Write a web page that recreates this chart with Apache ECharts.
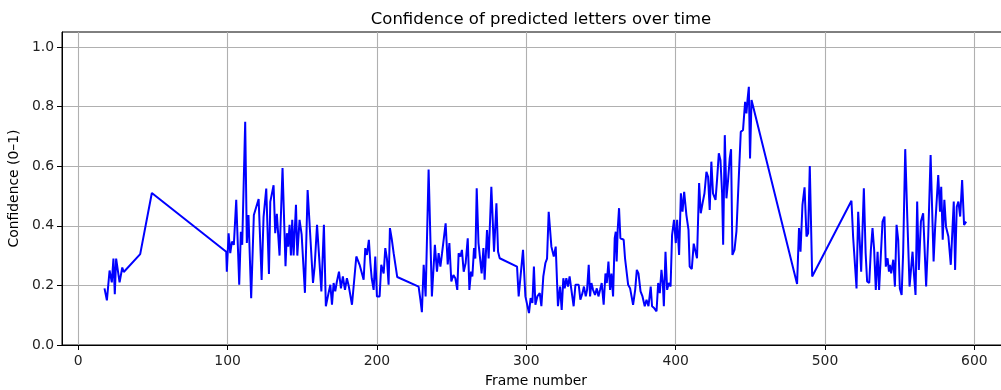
<!DOCTYPE html>
<html>
<head>
<meta charset="utf-8">
<script src="https://cdn.jsdelivr.net/npm/echarts@6/dist/echarts.min.js"></script>
<style>
html,body{margin:0;padding:0;background:#fff;}
#chart{width:1001px;height:390px;}
</style>
</head>
<body>
<div id="chart"></div>
<script>
const titleText = "Confidence of predicted letters over time";
const xName = "Frame number";
const yName = "Confidence (0\u20131)";
const xTicks = [0, 100, 200, 300, 400, 500, 600];
const yTicks = [0, 0.2, 0.4, 0.6, 0.8, 1.0];

const frames = [
17.6,19.2,19.9,21.0,22.1,22.5,23.6,24.5,25.4,26.1,27.7,29.5,30.5,41.5,49.3,
99.1,99.5,100.7,101.8,102.9,104.2,105.8,107.8,108.9,109.8,111.8,112.9,114.0,115.8,117.6,118.8,120.8,122.8,124.1,125.9,127.7,128.6,130.8,131.9,133.0,134.8,136.8,138.8,139.7,140.6,141.5,142.4,143.3,144.2,145.8,146.7,148.2,149.6,151.8,153.6,157.2,158.3,159.9,162.8,164.5,165.8,
167.6,168.8,169.9,171.0,172.1,173.2,174.6,175.9,177.2,178.6,179.9,181.2,183.3,186.2,188.4,191.1,192.2,193.3,194.6,195.6,196.5,197.8,198.9,200.0,201.8,202.9,204.5,205.6,206.7,207.8,208.7,210.0,211.2,212.3,213.6,227.9,229.1,230.1,231.3,232.6,234.6,236.8,238.8,240.2,241.3,242.5,243.6,244.7,246.0,247.4,
248.5,249.8,251.2,252.5,253.8,254.7,255.9,256.9,258.1,259.4,260.8,261.9,263.0,263.9,265.0,265.9,266.8,268.0,269.0,270.1,271.3,272.1,273.7,274.8,276.6,278.4,280.0,281.1,282.2,293.8,294.9,297.8,299.4,300.7,301.8,302.9,304.1,305.1,306.1,307.4,309.0,310.1,311.4,312.8,313.9,315.0,316.8,318.4,319.7,321.2,322.6,323.7,324.8,325.7,326.8,327.9,329.0,330.2,
331.7,332.9,334.0,335.1,336.2,337.6,338.6,339.8,340.7,341.8,342.7,343.6,344.7,346.0,347.2,348.3,349.4,350.5,351.8,353.0,353.9,355.0,356.1,357.0,358.1,359.2,359.9,360.5,361.2,362.1,363.0,363.9,365.2,366.1,367.1,368.2,369.5,371.5,372.9,374.0,375.1,376.5,377.8,379.3,380.5,381.8,383.3,384.2,385.6,387.2,388.3,389.4,390.5,391.4,392.1,393.2,394.3,395.4,396.6,397.6,398.9,400.1,401.0,402.3,403.5,404.6,405.7,407.2,408.6,409.4,
410.8,412.1,413.3,414.3,415.7,416.8,418.0,419.3,420.6,421.7,422.8,423.9,425.0,426.7,427.7,428.9,430.0,431.1,431.8,432.9,434.0,435.1,436.2,437.1,438.0,439.4,440.7,442.0,443.6,445.1,446.5,447.4,448.1,449.0,449.8,450.8,481.3,482.6,483.6,484.9,486.3,487.6,488.7,489.8,491.4,
517.7,518.8,519.9,521.1,522.2,523.3,524.2,525.1,526.0,527.2,528.2,529.6,530.7,531.8,532.9,534.0,535.2,536.2,537.4,538.5,539.8,540.7,541.9,542.8,543.4,544.3,545.7,546.8,547.9,549.0,550.1,551.3,552.3,553.7,555.1,556.6,
558.6,559.5,560.6,561.7,562.8,564.2,565.7,567.7,569.1,570.7,572.7,573.8,574.7,575.8,577.0,577.8,578.8,579.9,581.0,582.6,584.2,586.2,587.1,588.2,589.3,590.5,591.8,593.1,594.5
];

const confidence = [
0.19,0.15,0.145,0.25,0.25,0.21,0.29,0.17,0.29,0.29,0.21,0.26,0.245,0.305,0.51,
0.313,0.246,0.375,0.308,0.347,0.336,0.487,0.202,0.38,0.336,0.749,0.342,0.436,0.157,0.436,0.43,0.49,0.218,0.43,0.525,0.238,0.48,0.536,0.375,0.44,0.30,0.594,0.264,0.375,0.33,0.403,0.30,0.42,0.30,0.47,0.30,0.42,0.37,0.175,0.52,0.208,0.264,0.403,0.18,0.403,0.13,
0.174,0.202,0.135,0.208,0.18,0.213,0.246,0.19,0.23,0.185,0.224,0.196,0.135,0.297,0.269,0.219,0.325,0.302,0.353,0.275,0.224,0.185,0.297,0.163,0.163,0.269,0.24,0.325,0.29,0.202,0.392,0.353,0.308,0.313,0.228,0.196,0.152,0.11,0.269,0.163,0.589,0.163,0.336,0.246,0.308,0.263,0.308,0.313,0.408,0.27,
0.342,0.213,0.235,0.224,0.185,0.308,0.297,0.319,0.246,0.275,0.358,0.185,0.246,0.23,0.325,0.29,0.526,0.342,0.336,0.24,0.325,0.219,0.386,0.29,0.531,0.313,0.475,0.313,0.291,0.263,0.163,0.319,0.163,0.157,0.107,0.157,0.141,0.263,0.135,0.163,0.174,0.13,0.23,0.275,0.29,0.447,0.33,0.297,0.33,0.13,0.196,0.118,0.224,0.19,0.224,0.196,0.23,0.185,
0.13,0.202,0.196,0.202,0.152,0.174,0.196,0.163,0.185,0.269,0.163,0.208,0.185,0.168,0.19,0.163,0.185,0.208,0.135,0.24,0.208,0.28,0.185,0.24,0.163,0.358,0.38,0.28,0.386,0.459,0.358,0.364,0.353,0.291,0.297,0.202,0.19,0.135,0.185,0.252,0.24,0.18,0.163,0.13,0.152,0.13,0.196,0.13,0.124,0.113,0.208,0.174,0.252,0.208,0.13,0.313,0.185,0.208,0.196,0.369,0.42,0.342,0.42,0.302,0.509,0.447,0.514,0.436,0.386,0.263,
0.255,0.34,0.34,0.291,0.543,0.442,0.475,0.509,0.581,0.564,0.453,0.615,0.509,0.487,0.553,0.643,0.62,0.509,0.336,0.704,0.492,0.553,0.626,0.657,0.302,0.319,0.381,0.381,0.715,0.721,0.816,0.777,0.822,0.866,0.626,0.822,0.205,0.392,0.313,0.47,0.529,0.364,0.375,0.6,0.23,
0.484,0.364,0.36,0.19,0.447,0.342,0.246,0.246,0.526,0.308,0.213,0.208,0.319,0.392,0.319,0.185,0.313,0.185,0.19,0.414,0.431,0.263,0.291,0.246,0.269,0.24,0.286,0.196,0.403,0.353,0.19,0.168,0.308,0.657,0.425,0.196,
0.313,0.24,0.168,0.481,0.252,0.414,0.442,0.196,0.364,0.637,0.28,0.403,0.403,0.57,0.447,0.531,0.353,0.487,0.397,0.364,0.269,0.481,0.252,0.464,0.481,0.431,0.553,0.403,0.414
];

const seriesData = frames.map((f, i) => [f, confidence[i]]);
const font = "DejaVu Sans";

const chart = echarts.init(document.getElementById('chart'), null, {renderer: 'canvas'});
chart.setOption({
  animation: false,
  backgroundColor: '#ffffff',
  title: {
    text: titleText,
    left: 536,
    top: 6,
    textAlign: 'center',
    textStyle: {fontFamily: font, fontSize: 16.5, fontWeight: 'normal', color: '#000'}
  },
  grid: {
    left: 62, right: -9, top: 32, bottom: 45,
    outerBoundsMode: 'none',
    containLabel: false,
    show: true, borderColor: '#000', borderWidth: 1, backgroundColor: 'transparent'
  },
  xAxis: {
    type: 'value',
    min: -10.85, max: 623.85,
    name: xName, nameLocation: 'middle', nameGap: 29,
    nameTextStyle: {fontFamily: font, fontSize: 13.9, color: '#000'},
    axisLine: {show: true, onZero: false, lineStyle: {color: '#000', width: 1}},
    axisTick: {show: true, length: 5, lineStyle: {color: '#000'}, customValues: xTicks},
    axisLabel: {fontFamily: font, fontSize: 13.9, color: '#222', margin: 9, customValues: xTicks, formatter: v => String(v)},
    splitLine: {show: true, lineStyle: {color: '#b0b0b0', width: 1.1}}
  },
  yAxis: {
    type: 'value',
    min: 0, max: 1.05,
    name: yName, nameLocation: 'middle', nameGap: 36, nameRotate: 90,
    nameTextStyle: {fontFamily: font, fontSize: 13.9, color: '#000'},
    axisLine: {show: true, onZero: false, lineStyle: {color: '#000', width: 1}},
    axisTick: {show: true, length: 5, lineStyle: {color: '#000'}, customValues: yTicks},
    axisLabel: {fontFamily: font, fontSize: 13.9, color: '#222', margin: 8, customValues: yTicks, formatter: v => v.toFixed(1)},
    splitLine: {show: true, lineStyle: {color: '#b0b0b0', width: 1.1}}
  },
  series: [{
    type: 'line',
    data: seriesData,
    showSymbol: false,
    symbol: 'none',
    lineStyle: {color: '#0000ff', width: 2},
    itemStyle: {color: '#0000ff'},
    clip: true
  }]
});
</script>
</body>
</html>
